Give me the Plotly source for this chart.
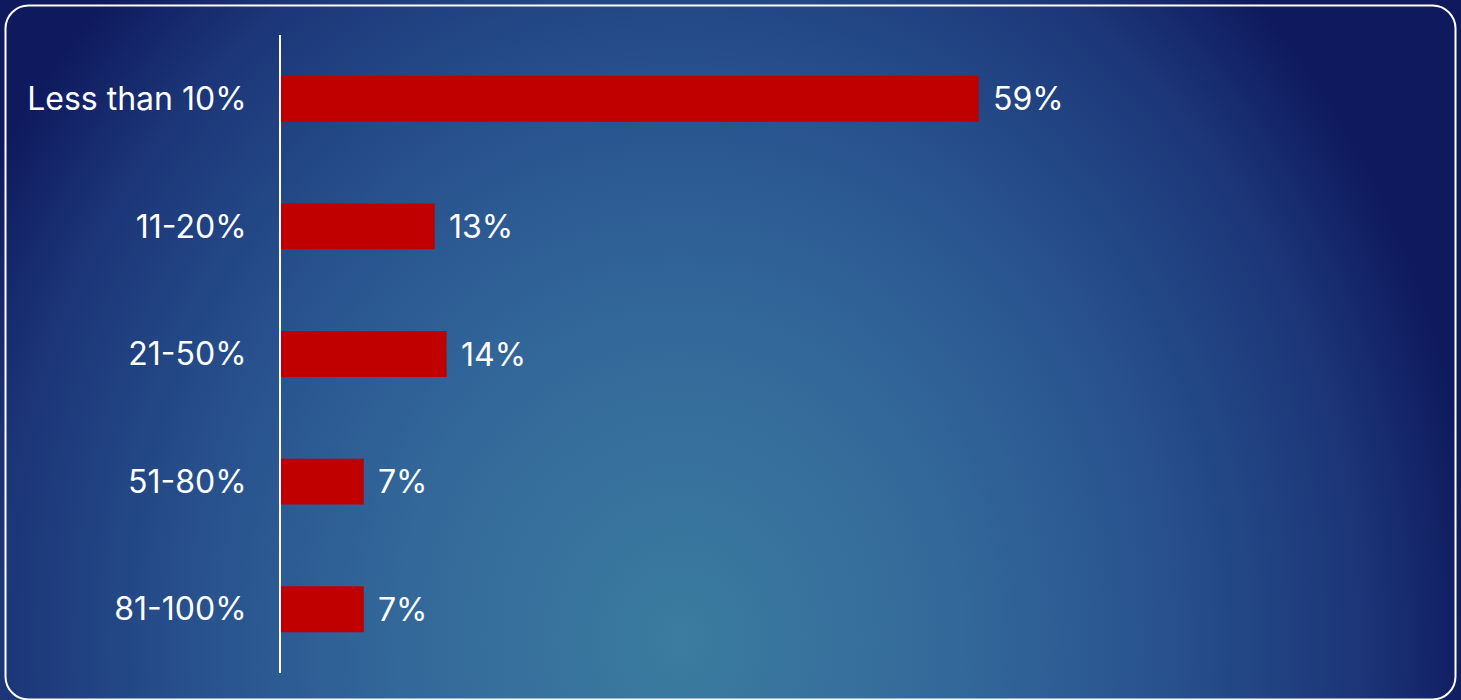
import plotly.graph_objects as go
import urllib.parse

categories = ["Less than 10%", "11-20%", "21-50%", "51-80%", "81-100%"]
values = [59, 13, 14, 7, 7]
value_labels = ["59%", "13%", "14%", "7%", "7%"]

W, H = 1461, 700
ML, MR, MT, MB = 281, 21, 35, 27
PW, PH = W - ML - MR, H - MT - MB

FONT = "Inter, 'Noto Sans', sans-serif"
FSIZE = 32
BAR = "#c00000"

# Background panel: radial blue glow with a rounded white frame
svg = f"""<svg xmlns='http://www.w3.org/2000/svg' width='{W}' height='{H}' viewBox='0 0 {W} {H}'>
<defs>
<radialGradient id='g' gradientUnits='userSpaceOnUse' cx='680' cy='640' r='800'
 gradientTransform='translate(680 640) scale(1 1.15) translate(-680 -640)'>
<stop offset='0' stop-color='#3b7c9f'/>
<stop offset='0.35' stop-color='#33689a'/>
<stop offset='0.6' stop-color='#28528e'/>
<stop offset='0.85' stop-color='#1c3678'/>
<stop offset='1' stop-color='#0f1a5e'/>
</radialGradient>
</defs>
<rect x='0' y='0' width='{W}' height='{H}' fill='url(#g)'/>
<rect x='5.5' y='5.5' width='1450' height='694' rx='23' ry='23' fill='none' stroke='white' stroke-width='2'/>
</svg>"""
bg_src = "data:image/svg+xml;charset=utf-8," + urllib.parse.quote(svg)

fig = go.Figure()
fig.add_trace(go.Bar(
    x=values,
    y=categories,
    orientation="h",
    marker=dict(color=BAR, line=dict(width=0)),
    width=0.36,
    hoverinfo="skip",
))

for cat, val, lab in zip(categories, values, value_labels):
    fig.add_annotation(
        x=val, y=cat, text=lab, showarrow=False,
        xanchor="left", yanchor="middle", xshift=12,
        font=dict(family=FONT, size=FSIZE, color="white"),
    )

fig.add_layout_image(
    source=bg_src,
    xref="paper", yref="paper",
    x=-ML / PW, y=1 + MT / PH,
    sizex=W / PW, sizey=H / PH,
    xanchor="left", yanchor="top",
    sizing="stretch", layer="below",
)

fig.update_layout(
    width=W, height=H,
    margin=dict(l=ML, r=MR, t=MT, b=MB, pad=0),
    paper_bgcolor="#16306e",
    plot_bgcolor="rgba(0,0,0,0)",
    showlegend=False,
    font=dict(family=FONT, size=FSIZE, color="white"),
    xaxis=dict(range=[0, 98], visible=False, fixedrange=True),
    yaxis=dict(
        autorange=False, range=[4.5, -0.5],
        showline=True, linecolor="white", linewidth=2,
        showgrid=False, zeroline=False,
        ticks="", ticklabelstandoff=26,
        tickfont=dict(family=FONT, size=FSIZE, color="white"),
        fixedrange=True,
    ),
)

fig.write_html("out.html", config={"displayModeBar": False})
